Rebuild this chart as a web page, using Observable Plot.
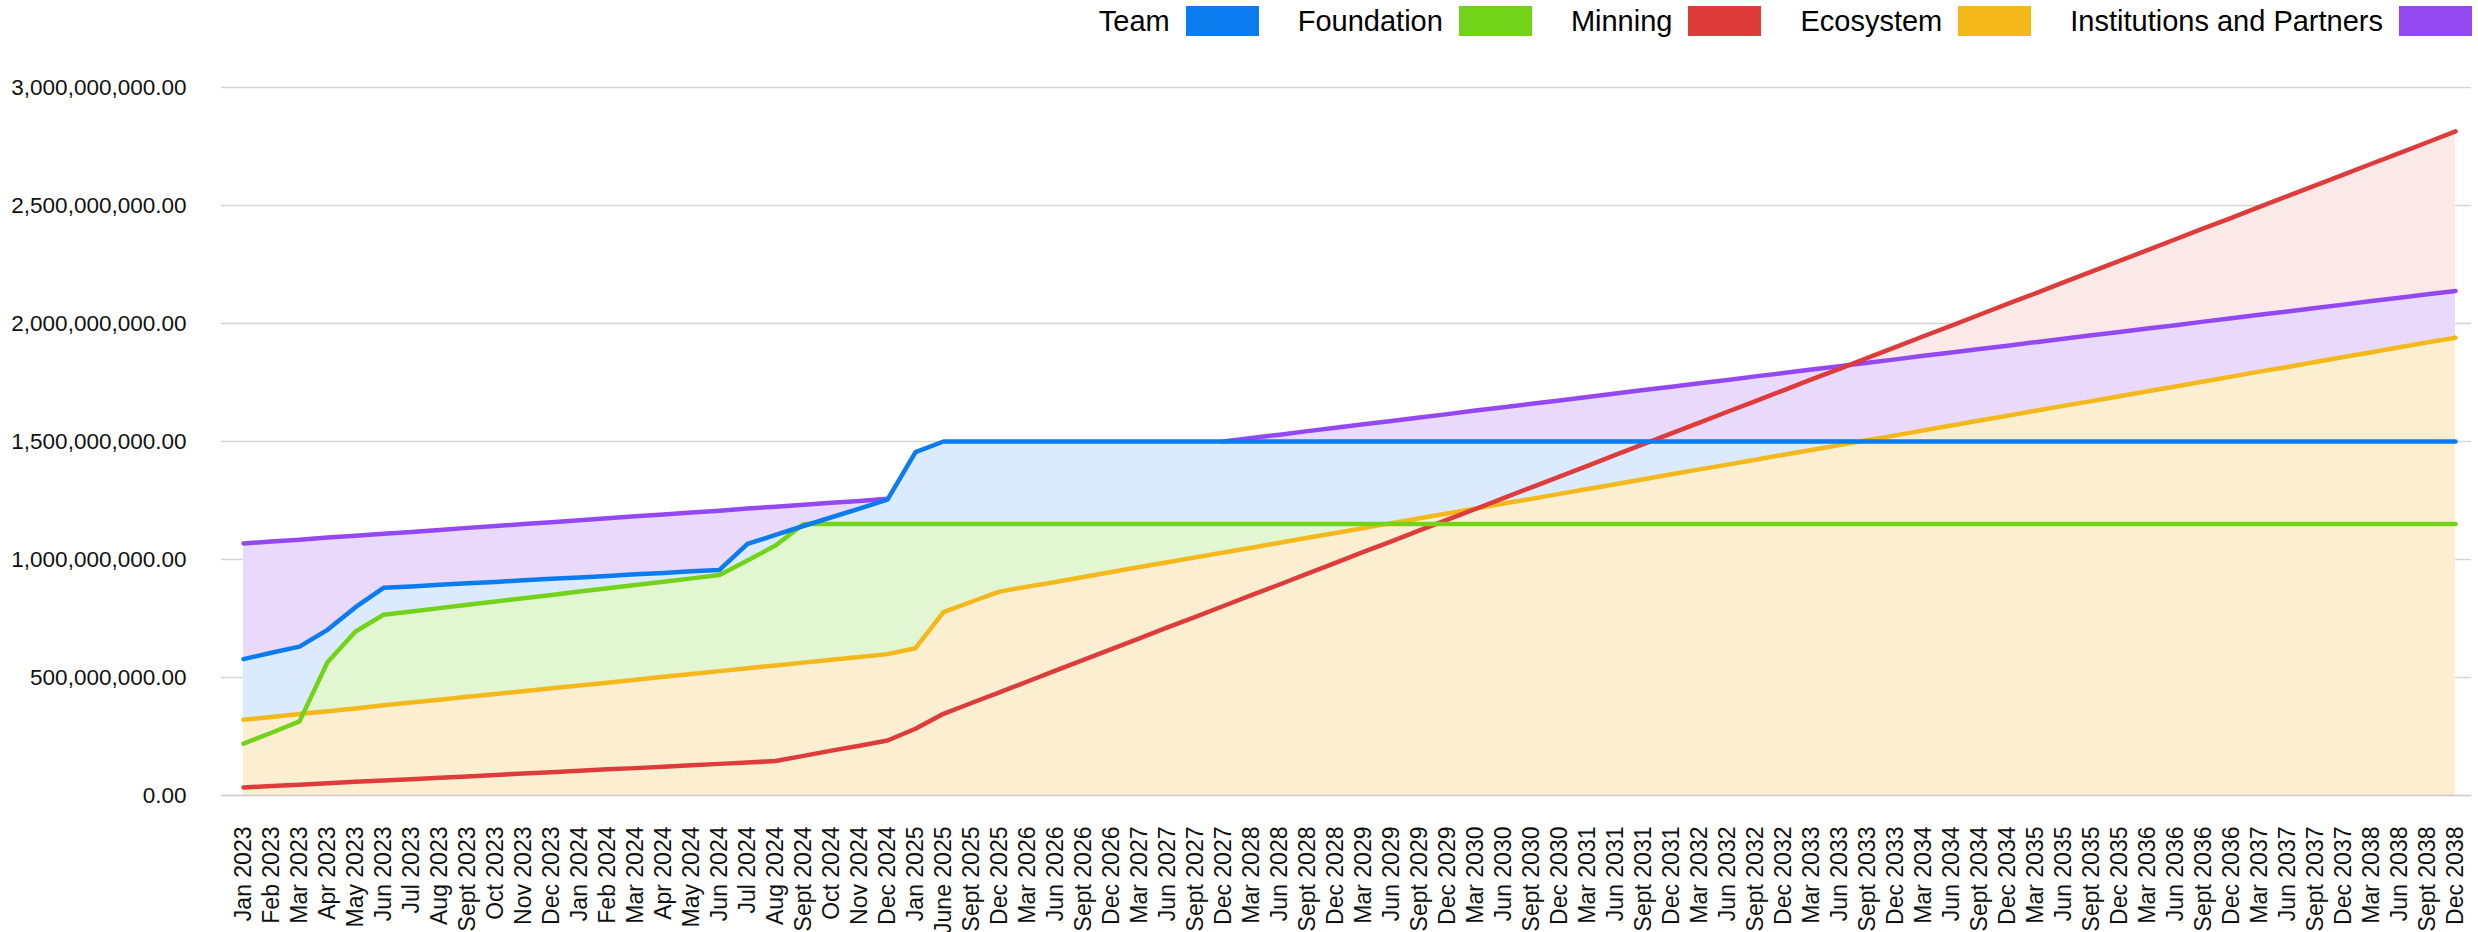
<!DOCTYPE html>
<html>
<head>
<meta charset="utf-8">
<script src="https://cdn.jsdelivr.net/npm/d3@7"></script>
<script src="https://cdn.jsdelivr.net/npm/@observablehq/plot@0.6"></script>
<style>
  html, body { margin: 0; padding: 0; background: #fff; }
  body { width: 2478px; height: 932px; overflow: hidden; font-family: "Liberation Sans", Arial, Helvetica, sans-serif; }
  #legend { box-sizing: border-box; height: 45px; display: flex; justify-content: flex-end; align-items: flex-start;
            padding-top: 6px; padding-right: 6px; font-size: 29px; color: #000; }
  #legend .item { display: flex; align-items: center; margin-left: 39px; }
  #legend .txt { line-height: 30px; margin-right: 16px; white-space: nowrap; }
  #legend .sw { width: 73px; height: 30px; display: inline-block; }
  #chart svg { display: block; }
  #chart g[aria-label^="x-axis"] text { font-size: 23px; }
  #chart g[aria-label^="y-axis"] text { font-size: 22.5px; }
</style>
</head>
<body>
<div id="legend"></div>
<div id="chart"></div>
<script>
// ---- Data (values in millions) ----
const labels = [
  "Jan 2023","Feb 2023","Mar 2023","Apr 2023","May 2023","Jun 2023","Jul 2023","Aug 2023","Sept 2023","Oct 2023","Nov 2023","Dec 2023",
  "Jan 2024","Feb 2024","Mar 2024","Apr 2024","May 2024","Jun 2024","Jul 2024","Aug 2024","Sept 2024","Oct 2024","Nov 2024","Dec 2024",
  "Jan 2025","June 2025","Sept 2025","Dec 2025",
  "Mar 2026","Jun 2026","Sept 2026","Dec 2026",
  "Mar 2027","Jun 2027","Sept 2027","Dec 2027",
  "Mar 2028","Jun 2028","Sept 2028","Dec 2028",
  "Mar 2029","Jun 2029","Sept 2029","Dec 2029",
  "Mar 2030","Jun 2030","Sept 2030","Dec 2030",
  "Mar 2031","Jun 2031","Sept 2031","Dec 2031",
  "Mar 2032","Jun 2032","Sept 2032","Dec 2032",
  "Mar 2033","Jun 2033","Sept 2033","Dec 2033",
  "Mar 2034","Jun 2034","Sept 2034","Dec 2034",
  "Mar 2035","Jun 2035","Sept 2035","Dec 2035",
  "Mar 2036","Jun 2036","Sept 2036","Dec 2036",
  "Mar 2037","Jun 2037","Sept 2037","Dec 2037",
  "Mar 2038","Jun 2038","Sept 2038","Dec 2038"
];

const team = [
  578,605,631,702,798,880,886,893,899,905,912,918,
  924,930,937,943,950,956,1066,1104,1142,1179,1216,1254,
  1455,1500,1500,1500,
  1500,1500,1500,1500, 1500,1500,1500,1500, 1500,1500,1500,1500, 1500,1500,1500,1500,
  1500,1500,1500,1500, 1500,1500,1500,1500, 1500,1500,1500,1500, 1500,1500,1500,1500,
  1500,1500,1500,1500, 1500,1500,1500,1500, 1500,1500,1500,1500, 1500,1500,1500,1500,
  1500,1500,1500,1500
];

const foundation = [
  220,266,314,565,695,766,780,794,808,822,836,850,
  864,878,892,906,920,934,996,1059,1150,1150,1150,1150,
  1150,1150,1150,1150,
  1150,1150,1150,1150, 1150,1150,1150,1150, 1150,1150,1150,1150, 1150,1150,1150,1150,
  1150,1150,1150,1150, 1150,1150,1150,1150, 1150,1150,1150,1150, 1150,1150,1150,1150,
  1150,1150,1150,1150, 1150,1150,1150,1150, 1150,1150,1150,1150, 1150,1150,1150,1150,
  1150,1150,1150,1150
];

const minning = [
  34,40,46,52,58,64,69,75,81,87,93,99,
  105,111,116,122,128,134,140,146,168,190,211,233,
  283,346,392,437,
  483,529,575,620, 666,712,757,803, 849,894,940,986, 1032,1077,1123,1169,
  1214,1260,1306,1351, 1397,1443,1489,1534, 1580,1626,1671,1717, 1763,1808,1854,1900,
  1946,1991,2037,2083, 2128,2174,2220,2265, 2311,2357,2403,2448, 2494,2540,2585,2631,
  2677,2722,2768,2814
];

const ecosystem = [
  321,333,345,357,369,382,394,406,418,430,442,454,
  466,478,490,503,515,527,539,551,563,575,587,599,
  624,777,821,864,
  885,905,926,947, 968,988,1009,1030, 1050,1071,1092,1112, 1133,1154,1175,1195,
  1216,1237,1257,1278, 1299,1319,1340,1361, 1382,1402,1423,1444, 1464,1485,1506,1526,
  1547,1568,1589,1609, 1630,1651,1671,1692, 1713,1733,1754,1775, 1796,1816,1837,1858,
  1878,1899,1920,1940
];

const institutions = [
  1068,1076,1084,1093,1101,1109,1117,1125,1134,1142,1150,1158,
  1166,1175,1183,1191,1199,1207,1216,1224,1232,1240,1248,1257,
  null,null,null,null,
  null,null,null,null, null,null,null,1500, 1515,1529,1544,1558, 1573,1587,1602,1616,
  1631,1645,1660,1674, 1689,1703,1718,1732, 1747,1761,1776,1790, 1805,1819,1834,1848,
  1863,1877,1892,1906, 1921,1935,1950,1964, 1979,1993,2008,2022, 2037,2051,2066,2080,
  2095,2109,2124,2138
];

const seriesNames = ["Team", "Foundation", "Minning", "Ecosystem", "Institutions and Partners"];
const seriesValues = [team, foundation, minning, ecosystem, institutions];
const lineColors = ["#0b7bf0", "#72d319", "#dd3c3b", "#f4b81b", "#9448f1"];
const fillColors = ["#dbeafc", "#e2f6d2", "#fbe9e9", "#fcefd1", "#e9dafb"];

// ---- Legend ----
const legend = document.getElementById("legend");
seriesNames.forEach((name, k) => {
  const item = document.createElement("div");
  item.className = "item";
  const t = document.createElement("span");
  t.className = "txt";
  t.textContent = name;
  const s = document.createElement("span");
  s.className = "sw";
  s.style.background = lineColors[k];
  item.appendChild(t);
  item.appendChild(s);
  legend.appendChild(item);
});

// ---- Build tables ----
function rows(k) {
  return labels.map((label, i) => ({
    label,
    series: seriesNames[k],
    value: seriesValues[k][i] == null ? null : seriesValues[k][i] * 1e6
  }));
}
const tables = seriesValues.map((_, k) => rows(k));

// drawing order of fills (bottom -> top): Minning, Institutions, Team, Foundation, Ecosystem
const areaOrder = [2, 4, 0, 1, 3];
// drawing order of lines
const lineOrder = [4, 3, 2, 1, 0];

const yTickValues = [0, 5e8, 1e9, 1.5e9, 2e9, 2.5e9, 3e9];

const marks = [
  Plot.ruleY(yTickValues.slice(1), {stroke: "#d5d5d5", strokeWidth: 1.5}),
];
areaOrder.forEach(k => {
  marks.push(Plot.areaY(tables[k], {x: "label", y1: 0, y2: "value", fill: fillColors[k]}));
});
marks.push(Plot.ruleY([0], {stroke: "#c9c9c9", strokeWidth: 1.5}));
lineOrder.forEach(k => {
  marks.push(Plot.lineY(tables[k], {x: "label", y: "value", stroke: lineColors[k], strokeWidth: 4.5, strokeLinejoin: "round"}));
});

const chart = Plot.plot({
  width: 2478,
  height: 887,
  marginLeft: 221,
  marginRight: 7,
  marginTop: 42,
  marginBottom: 137,
  style: {fontFamily: "'Liberation Sans', Arial, Helvetica, sans-serif", fontSize: "22px", color: "#111", background: "#fff", overflow: "visible"},
  x: {type: "point", domain: labels, range: [236.7, 2461], padding: 0, label: null, tickSize: 0, tickPadding: 31, tickRotate: -90},
  y: {domain: [0, 3e9], ticks: 6, tickFormat: d3.format(",.2f"), label: null, tickSize: 0, tickPadding: 35},
  marks
});
document.getElementById("chart").appendChild(chart);
</script>
</body>
</html>
